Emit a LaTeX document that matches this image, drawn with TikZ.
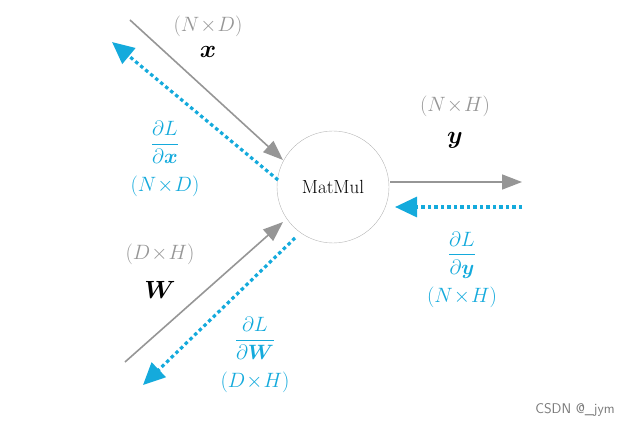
\documentclass[tikz,border=0pt]{standalone}
\usepackage{amsmath,bm}
\usetikzlibrary{arrows.meta}
\definecolor{bl}{RGB}{20,170,220}
\definecolor{gr}{RGB}{150,150,150}
\begin{document}
\begin{tikzpicture}[x=1pt,y=-1pt,
 fw/.style={gr,line width=1.6pt,-{Triangle[length=20pt,width=15pt]}},
 bw/.style={bl,line width=3.2pt,dash pattern=on 3.5pt off 3pt,-{Triangle[length=22pt,width=20pt]}},
 gt/.style={gr,font=\fontsize{22}{26}\selectfont},
 bt/.style={bl,font=\fontsize{22}{26}\selectfont,align=center}]
\useasboundingbox (0,0) rectangle (644,430);
\node[circle,draw=gr!70,minimum size=112pt,inner sep=0,font=\fontsize{19}{22}\selectfont] (m) at (333,187) {MatMul};
\coordinate (xs) at (130,20);
\coordinate (ws) at (125,362);
\coordinate (ye) at (522,182);
\coordinate (xe) at (112,42);
\coordinate (we) at (143,385);
\coordinate (ys) at (522,207);
\draw[fw] (xs) -- (283,160);
\draw[fw] (ws) -- (283,222);
\draw[fw] (390,182) -- (ye);
\draw[bw] (278,180) -- (xe);
\draw[bw] (295,238) -- (we);
\draw[bw] (ys) -- (395,207);
\node[gt] (t1) at (208,26) {$(N\!\times\! D)$};
\node[font=\fontsize{30}{34}\selectfont] (t2) at (208,52) {$\bm{x}$};
\node[bt] (t3) at (165,142) {$\dfrac{\partial L}{\partial \bm{x}}$};
\node[bt] (t4) at (165,186) {$(N\!\times\! D)$};
\node[gt] (t5) at (455,106) {$(N\!\times\! H)$};
\node[font=\fontsize{30}{34}\selectfont] (t6) at (455,140) {$\bm{y}$};
\node[bt] (t7) at (462,255) {$\dfrac{\partial L}{\partial \bm{y}}$};
\node[bt] (t8) at (462,297) {$(N\!\times\! H)$};
\node[gt] (t9) at (160,254) {$(D\!\times\! H)$};
\node[font=\fontsize{40}{44}\selectfont] (t10) at (160,290) {$\bm{W}$};
\node[bt] (t11) at (255,338) {$\dfrac{\partial L}{\partial \bm{W}}$};
\node[bt] (t12) at (255,382) {$(D\!\times\! H)$};
\node[gr!80!black,font=\fontsize{14}{16}\sffamily] (c) at (575,410) {CSDN @\_jym};
\end{tikzpicture}
\end{document}
